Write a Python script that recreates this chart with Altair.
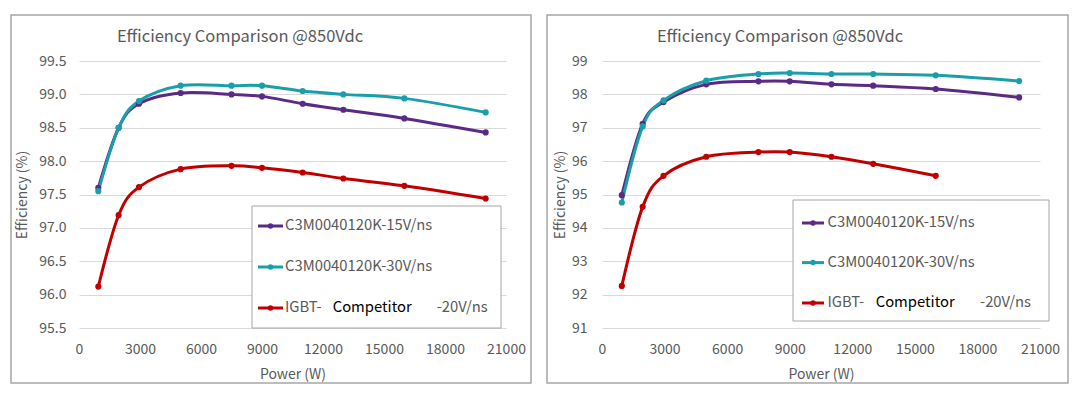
import altair as alt
import pandas as pd

# ---------------- data ----------------
series = ["C3M0040120K-15V/ns", "C3M0040120K-30V/ns", "IGBT- Competitor -20V/ns"]
colors = ["#5B2A86", "#1A9FAA", "#C00000"]

power = [950, 1950, 2950, 5000, 7500, 9000, 11000, 13000, 16000, 20000]

left_15 = [97.60, 98.50, 98.86, 99.02, 99.00, 98.97, 98.86, 98.77, 98.64, 98.43]
left_30 = [97.55, 98.50, 98.90, 99.13, 99.13, 99.13, 99.05, 99.00, 98.94, 98.73]
left_igbt = [96.12, 97.19, 97.61, 97.88, 97.93, 97.90, 97.83, 97.74, 97.63, 97.44]

right_15 = [94.98, 97.12, 97.77, 98.30, 98.39, 98.39, 98.30, 98.26, 98.16, 97.91]
right_30 = [94.76, 97.04, 97.82, 98.41, 98.61, 98.64, 98.61, 98.61, 98.57, 98.40]
right_igbt = [92.26, 94.63, 95.56, 96.13, 96.27, 96.27, 96.13, 95.92, 95.56]

title_text = "Efficiency Comparison @850Vdc"
x_title = "Power (W)"
y_title = "Efficiency (%)"
x_ticks = [0, 3000, 6000, 9000, 12000, 15000, 18000, 21000]
left_y_ticks = [95.5, 96.0, 96.5, 97.0, 97.5, 98.0, 98.5, 99.0, 99.5]
right_y_ticks = [91, 92, 93, 94, 95, 96, 97, 98, 99]

legend_entries = [
    ["C3M0040120K-15V/ns"],
    ["C3M0040120K-30V/ns"],
    ["IGBT-", "Competitor", "-20V/ns"],
]
legend_part_colors = [["#595959"], ["#595959"], ["#595959", "#000000", "#595959"]]

FONT = "Noto Sans CJK SC"
GRAY = "#595959"


def panel(vals, yticks, yfmt, g):
    W, H = g["w"], g["h"]
    rows = []
    for s, v in zip(series, vals):
        for p, e in zip(power, v):
            rows.append({"power": p, "eff": e, "series": s})
    df = pd.DataFrame(rows)
    color = alt.Color("series:N", scale=alt.Scale(domain=series, range=colors), legend=None)
    x = alt.X("power:Q", scale=alt.Scale(domain=[0, 21000], nice=False, zero=False),
              axis=alt.Axis(values=x_ticks, format="d", title=x_title, grid=False,
                            labelOverlap=False, labelFlush=False,
                            labelPadding=g["xlp"], titlePadding=g["xtp"]))
    y = alt.Y("eff:Q", scale=alt.Scale(domain=[yticks[0], yticks[-1]], nice=False, zero=False),
              axis=alt.Axis(values=yticks, format=yfmt, title=y_title, grid=True,
                            labelOverlap=False, labelFlush=False, tickCount=len(yticks),
                            labelPadding=g["ylp"], titlePadding=g["ytp"]))
    one = pd.DataFrame({"k": [0]})
    deco = alt.Chart(one)

    frame = deco.mark_rect(fill="transparent", stroke="#a6a6a6", strokeWidth=1.5).encode(
        x=alt.value(g["fx0"]), x2=alt.value(W + g["fx1"]),
        y=alt.value(-46), y2=alt.value(H + 55))
    lines = alt.Chart(df).mark_line(interpolate="cardinal", strokeWidth=3).encode(
        x=x, y=y, color=color, detail="series:N")
    pts = alt.Chart(df).mark_circle(size=38, opacity=1).encode(
        x=x, y=y, color=color)
    title = deco.mark_text(font=FONT, fontSize=16.5, color=GRAY, align="center",
                           baseline="middle").encode(
        x=alt.value(g["tx"]), y=alt.value(-24), text=alt.value(title_text))
    box = deco.mark_rect(fill="white", stroke="#a6a6a6", strokeWidth=1).encode(
        x=alt.value(g["bx0"]), x2=alt.value(g["bx1"]),
        y=alt.value(g["by0"]), y2=alt.value(g["by1"]))
    layers = [frame, lines, pts, title, box]
    for i, parts in enumerate(legend_entries):
        ry = g["rows"][i]
        layers.append(deco.mark_rule(strokeWidth=3, color=colors[i]).encode(
            x=alt.value(g["lx0"]), x2=alt.value(g["lx1"]), y=alt.value(ry)))
        layers.append(deco.mark_circle(size=30, opacity=1, color=colors[i]).encode(
            x=alt.value((g["lx0"] + g["lx1"]) / 2), y=alt.value(ry)))
        xs = g["parts"] if len(parts) > 1 else [g["parts"][0]]
        for t, px, c in zip(parts, xs, legend_part_colors[i]):
            layers.append(deco.mark_text(font=FONT, fontSize=14.8, color=c, align="left",
                                         baseline="middle").encode(
                x=alt.value(px), y=alt.value(ry), text=alt.value(t)))
    return alt.layer(*layers).properties(width=W, height=H)


# left plot area: x 79 -> 506, y 61 -> 328 ; right plot area: x 602 -> 1040
left_geo = dict(w=427, h=267, fx0=-68, fx1=25, tx=161, bx0=173, bx1=422, by0=145, by1=267,
                rows=[165, 206, 247], lx0=179, lx1=204, parts=[206, 253.7, 357.7],
                xlp=14, xtp=11, ylp=13, ytp=9)
right_geo = dict(w=438, h=267, fx0=-55, fx1=28, tx=178, bx0=191, bx1=447, by0=139, by1=260,
                 rows=[162, 201.6, 242], lx0=200, lx1=222, parts=[225.5, 273.7, 378],
                 xlp=14, xtp=11, ylp=15, ytp=4)

left = panel([left_15, left_30, left_igbt], left_y_ticks, ".1f", left_geo)
right = panel([right_15, right_30, right_igbt], right_y_ticks, "d", right_geo)

chart = alt.hconcat(left, right, spacing=96, bounds="flush").properties(
    padding={"left": 2, "top": 6, "right": 2, "bottom": 2},
    background="white",
).configure_view(stroke=None).configure_axis(
    labelFont=FONT, labelFontSize=14, labelColor=GRAY,
    titleFont=FONT, titleFontSize=14, titleColor=GRAY, titleFontWeight="normal",
    domain=False, ticks=False, gridColor="#d9d9d9", gridWidth=1,
    labelOverlap=False,
)

chart.save("out.html", embed_options={"renderer": "svg", "actions": False})
